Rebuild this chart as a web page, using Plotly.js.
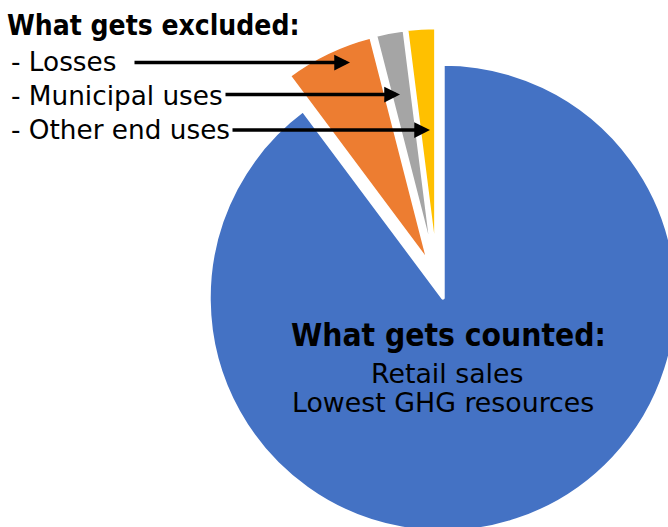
<!DOCTYPE html>
<html>
<head>
<meta charset="utf-8">
<script src="https://cdn.plot.ly/plotly-3.0.1.min.js"></script>
<style>
html, body { margin: 0; padding: 0; overflow: hidden; background: #ffffff; }
#chart { width: 760px; height: 580px; }
</style>
</head>
<body>
<div id="chart"></div>
<script>
// ---- data ----
const categories = ["Retail sales", "Losses", "Municipal uses", "Other end uses"];
const shares = [89.8, 6.2, 2.0, 2.0];
const sliceColors = ["#4472C4", "#ED7D31", "#A5A5A5", "#FFC000"];
const excludedTitle = "What gets excluded:";
const excludedItems = ["- Losses", "- Municipal uses", "- Other end uses"];
const countedTitle = "What gets counted:";
const countedItems = ["Retail sales", "Lowest GHG resources"];

// ---- layout helpers (pixel -> paper) ----
const W = 760, H = 580;
const px = x => x / W;
const py = y => 1 - y / H;

const boldFont = {family: "DejaVu Sans Condensed, DejaVu Sans, sans-serif", size: 28, color: "#000000", weight: 700};
const boldFontBig = {family: "DejaVu Sans Condensed, DejaVu Sans, sans-serif", size: 31.5, color: "#000000", weight: 700};
const regFont = {family: "DejaVu Sans, sans-serif", size: 26.3, color: "#000000"};
const regFontBig = {family: "DejaVu Sans, sans-serif", size: 26.8, color: "#000000"};

const trace = {
  type: "pie",
  labels: categories,
  values: shares,
  sort: false,
  direction: "clockwise",
  rotation: 0,
  pull: 0.08,
  marker: {colors: sliceColors, line: {color: "#ffffff", width: 3.5}},
  textinfo: "none",
  hoverinfo: "label+percent",
  showlegend: false,
  domain: {x: [0.2426, 0.9076], y: [0.0812, 0.9526]}
};

const annotations = [];
function addText(text, x, y, font, xanchor) {
  annotations.push({text: text, x: px(x), y: py(y), xref: "paper", yref: "paper",
    xanchor: xanchor, yanchor: "middle", showarrow: false, font: font, borderpad: 0});
}
addText("<b>" + excludedTitle + "</b>", 6, 25, boldFont, "left");
const itemY = [61.5, 95.5, 130];
excludedItems.forEach((t, i) => addText(t, 10, itemY[i], regFont, "left"));
addText("<b>" + countedTitle + "</b>", 448.5, 334.5, boldFontBig, "center");
addText(countedItems[0], 447.5, 373.5, regFontBig, "center");
addText(countedItems[1], 443, 402, regFontBig, "center");

// arrows: tip and tail pixel positions
const arrowTips = [[350, 62.5], [400, 94.5], [430, 130]];
const arrowTails = [133, 224, 231];
arrowTips.forEach((tp, i) => {
  annotations.push({text: "", x: px(tp[0]), y: py(tp[1]), xref: "paper", yref: "paper",
    showarrow: true, arrowhead: 2, arrowsize: 0.9, arrowwidth: 3.5, arrowcolor: "#000000",
    ax: arrowTails[i] - tp[0], ay: 0, standoff: 0, startstandoff: 0});
});

const layout = {
  width: W, height: H,
  margin: {l: 0, r: 0, t: 0, b: 0},
  paper_bgcolor: "#ffffff",
  plot_bgcolor: "#ffffff",
  showlegend: false,
  annotations: annotations
};

Plotly.newPlot("chart", [trace], layout, {displayModeBar: false, staticPlot: true});
</script>
</body>
</html>
